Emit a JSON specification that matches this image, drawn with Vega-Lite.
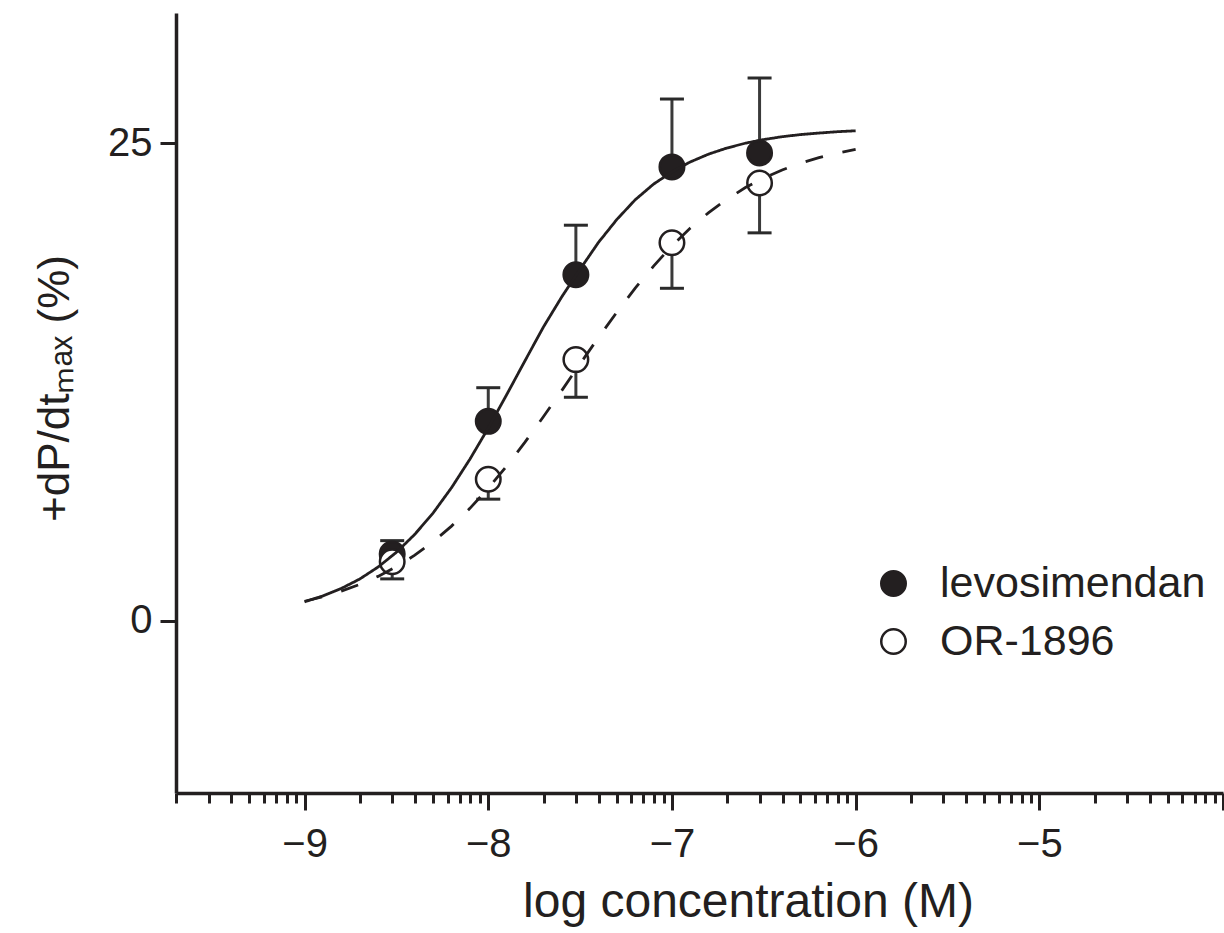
{
  "$schema": "https://vega.github.io/schema/vega-lite/v6.json",
  "width": 1047,
  "height": 780,
  "autosize": {"type": "none"},
  "padding": {"left": 176, "top": 13, "right": 1, "bottom": 140},
  "background": "white",
  "datasets": {
    "pts": [
      {"x": -8.523, "y": 3.5, "series": "levosimendan"},
      {"x": -8.0, "y": 10.44, "series": "levosimendan"},
      {"x": -7.523, "y": 18.11, "series": "levosimendan"},
      {"x": -7.0, "y": 23.75, "series": "levosimendan"},
      {"x": -6.523, "y": 24.48, "series": "levosimendan"},
      {"x": -8.523, "y": 3.1, "series": "OR-1896"},
      {"x": -8.0, "y": 7.41, "series": "OR-1896"},
      {"x": -7.523, "y": 13.67, "series": "OR-1896"},
      {"x": -7.0, "y": 19.78, "series": "OR-1896"},
      {"x": -6.523, "y": 22.91, "series": "OR-1896"}
    ],
    "err": [
      {"x": -8.523, "y": 3.5, "hi": 4.2, "cap": 4.2, "group": "levosimendan"},
      {"x": -8.0, "y": 10.44, "hi": 12.2, "cap": 12.2, "group": "levosimendan"},
      {"x": -7.523, "y": 18.11, "hi": 20.7, "cap": 20.7, "group": "levosimendan"},
      {"x": -7.0, "y": 23.75, "hi": 27.3, "cap": 27.3, "group": "levosimendan"},
      {"x": -6.523, "y": 24.48, "hi": 28.4, "cap": 28.4, "group": "levosimendan"},
      {"x": -8.523, "y": 2.2, "hi": 3.1, "cap": 2.2, "group": "OR-1896"},
      {"x": -8.0, "y": 6.37, "hi": 7.41, "cap": 6.37, "group": "OR-1896"},
      {"x": -7.523, "y": 11.7, "hi": 13.67, "cap": 11.7, "group": "OR-1896"},
      {"x": -7.0, "y": 17.4, "hi": 19.78, "cap": 17.4, "group": "OR-1896"},
      {"x": -6.523, "y": 20.3, "hi": 22.91, "cap": 20.3, "group": "OR-1896"}
    ],
    "curve": [
      {"x": -9.0, "y": 1.0, "fit": "levo"},
      {"x": -8.9, "y": 1.31, "fit": "levo"},
      {"x": -8.8, "y": 1.7, "fit": "levo"},
      {"x": -8.7, "y": 2.19, "fit": "levo"},
      {"x": -8.6, "y": 2.82, "fit": "levo"},
      {"x": -8.5, "y": 3.59, "fit": "levo"},
      {"x": -8.4, "y": 4.53, "fit": "levo"},
      {"x": -8.3, "y": 5.65, "fit": "levo"},
      {"x": -8.2, "y": 6.97, "fit": "levo"},
      {"x": -8.1, "y": 8.46, "fit": "levo"},
      {"x": -8.0, "y": 10.09, "fit": "levo"},
      {"x": -7.9, "y": 11.83, "fit": "levo"},
      {"x": -7.8, "y": 13.61, "fit": "levo"},
      {"x": -7.7, "y": 15.37, "fit": "levo"},
      {"x": -7.6, "y": 16.95, "fit": "levo"},
      {"x": -7.5, "y": 18.4, "fit": "levo"},
      {"x": -7.4, "y": 19.8, "fit": "levo"},
      {"x": -7.3, "y": 21.0, "fit": "levo"},
      {"x": -7.2, "y": 22.03, "fit": "levo"},
      {"x": -7.1, "y": 22.85, "fit": "levo"},
      {"x": -7.0, "y": 23.49, "fit": "levo"},
      {"x": -6.9, "y": 24.01, "fit": "levo"},
      {"x": -6.8, "y": 24.42, "fit": "levo"},
      {"x": -6.7, "y": 24.74, "fit": "levo"},
      {"x": -6.6, "y": 24.99, "fit": "levo"},
      {"x": -6.5, "y": 25.18, "fit": "levo"},
      {"x": -6.4, "y": 25.33, "fit": "levo"},
      {"x": -6.3, "y": 25.44, "fit": "levo"},
      {"x": -6.2, "y": 25.52, "fit": "levo"},
      {"x": -6.1, "y": 25.59, "fit": "levo"},
      {"x": -6.0, "y": 25.64, "fit": "levo"},
      {"x": -9.0, "y": 1.03, "fit": "or"},
      {"x": -8.9, "y": 1.27, "fit": "or"},
      {"x": -8.8, "y": 1.56, "fit": "or"},
      {"x": -8.7, "y": 1.91, "fit": "or"},
      {"x": -8.6, "y": 2.33, "fit": "or"},
      {"x": -8.5, "y": 2.84, "fit": "or"},
      {"x": -8.4, "y": 3.44, "fit": "or"},
      {"x": -8.3, "y": 4.14, "fit": "or"},
      {"x": -8.2, "y": 4.96, "fit": "or"},
      {"x": -8.1, "y": 5.89, "fit": "or"},
      {"x": -8.0, "y": 6.94, "fit": "or"},
      {"x": -7.9, "y": 8.1, "fit": "or"},
      {"x": -7.8, "y": 9.35, "fit": "or"},
      {"x": -7.7, "y": 10.68, "fit": "or"},
      {"x": -7.6, "y": 12.05, "fit": "or"},
      {"x": -7.5, "y": 13.45, "fit": "or"},
      {"x": -7.4, "y": 14.83, "fit": "or"},
      {"x": -7.3, "y": 16.15, "fit": "or"},
      {"x": -7.2, "y": 17.41, "fit": "or"},
      {"x": -7.1, "y": 18.56, "fit": "or"},
      {"x": -7.0, "y": 19.62, "fit": "or"},
      {"x": -6.9, "y": 20.55, "fit": "or"},
      {"x": -6.8, "y": 21.36, "fit": "or"},
      {"x": -6.7, "y": 22.06, "fit": "or"},
      {"x": -6.6, "y": 22.67, "fit": "or"},
      {"x": -6.5, "y": 23.17, "fit": "or"},
      {"x": -6.4, "y": 23.59, "fit": "or"},
      {"x": -6.3, "y": 23.95, "fit": "or"},
      {"x": -6.2, "y": 24.23, "fit": "or"},
      {"x": -6.1, "y": 24.47, "fit": "or"},
      {"x": -6.0, "y": 24.67, "fit": "or"}
    ]
  },
  "encoding": {
    "y": {"field": "y", "type": "quantitative",
      "scale": {"domain": [-9, 31.8], "nice": false, "zero": false},
      "axis": {"orient": "left", "values": [0, 25], "tickSize": 16, "labelPadding": 8, "title": "+dP/dtₘₐₓ (%)", "titlePadding": 30, "titleY": 375}}
  },
  "layer": [
    {
      "data": {"name": "err"},
      "mark": {"type": "rule", "strokeWidth": 3, "color": "#3a3a3a"},
      "encoding": {
        "x": {"field": "x", "type": "quantitative", "scale": {"domain": [-9.7, -4], "nice": false, "zero": false}, "axis": null},
        "y2": {"field": "hi"}
      }
    },
    {
      "data": {"name": "err"},
      "mark": {"type": "tick", "orient": "horizontal", "size": 24, "thickness": 3, "color": "#2a2a2a", "opacity": 1},
      "encoding": {
        "x": {"field": "x", "type": "quantitative", "axis": null},
        "y": {"field": "cap", "type": "quantitative", "scale": {"domain": [-9, 31.8], "nice": false, "zero": false},
          "axis": {"orient": "left", "values": [0, 25], "tickSize": 16, "labelPadding": 8, "title": "+dP/dtₘₐₓ (%)", "titlePadding": 30, "titleY": 375}}
      }
    },
    {
      "data": {"name": "pts"},
      "mark": {"type": "point", "shape": "circle", "filled": true, "size": 600, "stroke": "#231f20", "strokeWidth": 2.5, "opacity": 1},
      "encoding": {
        "x": {"field": "x", "type": "quantitative",
          "axis": {"orient": "bottom", "values": [-9, -8, -7, -6, -5, -4], "labelExpr": "datum.value == -4 ? '' : datum.label", "tickSize": 17, "labelPadding": 14, "title": "log concentration (M)", "titleFontSize": 48, "titlePadding": 14, "titleX": 572}},
        "fill": {"field": "series", "type": "nominal",
          "scale": {"domain": ["levosimendan", "OR-1896"], "range": ["#231f20", "white"]},
          "legend": {"orient": "none", "legendX": 696, "legendY": 549, "title": null, "padding": 0, "labelFontSize": 43, "labelLimit": 500, "labelFont": "Liberation Sans", "labelColor": "#231f20", "symbolType": "circle", "symbolSize": 600, "symbolStrokeColor": "#231f20", "symbolStrokeWidth": 2.5, "rowPadding": 14, "labelOffset": 25}}
      }
    },
    {
      "data": {"name": "curve"},
      "mark": {"type": "line", "color": "#231f20", "strokeWidth": 2.8},
      "encoding": {
        "x": {"field": "x", "type": "quantitative",
          "axis": {"orient": "bottom", "values": [-9.69897, -9.52288, -9.39794, -9.30103, -9.22185, -9.1549, -9.09691, -9.04576,
            -8.69897, -8.52288, -8.39794, -8.30103, -8.22185, -8.1549, -8.09691, -8.04576,
            -7.69897, -7.52288, -7.39794, -7.30103, -7.22185, -7.1549, -7.09691, -7.04576,
            -6.69897, -6.52288, -6.39794, -6.30103, -6.22185, -6.1549, -6.09691, -6.04576,
            -5.69897, -5.52288, -5.39794, -5.30103, -5.22185, -5.1549, -5.09691, -5.04576,
            -4.69897, -4.52288, -4.39794, -4.30103, -4.22185, -4.1549, -4.09691, -4.04576],
            "tickSize": 10, "labels": false, "domain": false, "title": null}},
        "strokeDash": {"field": "fit", "type": "nominal",
          "scale": {"domain": ["levo", "or"], "range": [[1, 0], [18, 20]]}, "legend": null}
      }
    }
  ],
  "resolve": {"axis": {"x": "independent"}},
  "config": {
    "view": {"stroke": null},
    "axis": {
      "grid": false,
      "domainColor": "#231f20",
      "domainWidth": 3.5,
      "tickColor": "#231f20",
      "tickWidth": 3,
      "labelFont": "Liberation Sans",
      "titleFont": "Liberation Sans",
      "labelColor": "#231f20",
      "titleColor": "#231f20",
      "labelFontSize": 40,
      "titleFontSize": 44,
      "titleFontWeight": "normal"
    }
  }
}
